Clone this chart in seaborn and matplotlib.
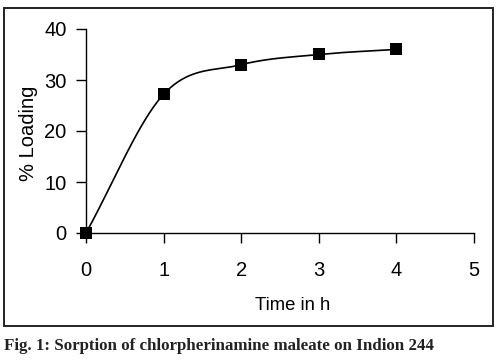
import numpy as np
import pandas as pd
import matplotlib
matplotlib.use("Agg")
import matplotlib.pyplot as plt
import seaborn as sns
from matplotlib.patches import Rectangle

# ---- data ----
time_h = [0, 1, 2, 3, 4]
loading = [0, 27.2, 33, 35, 36]
x_ticks = [0, 1, 2, 3, 4, 5]
y_ticks = [0, 10, 20, 30, 40]
x_label = "Time in h"
y_label = "% Loading"
caption = "Fig. 1: Sorption of chlorpherinamine maleate on Indion 244"


def smooth_curve(xs, ys, n=40):
    """Excel-style smoothed line (Catmull-Rom as cubic Bezier)."""
    P = np.column_stack([xs, ys]).astype(float)
    m = len(P)
    out = []
    for i in range(m - 1):
        p0 = P[i]
        p1 = P[i + 1]
        t0 = (P[i + 1] - P[i - 1]) / 2 if i > 0 else (P[1] - P[0])
        t1 = (P[i + 2] - P[i]) / 2 if i + 2 < m else (P[-1] - P[-2])
        b1 = p0 + t0 / 3
        b2 = p1 - t1 / 3
        t = np.linspace(0, 1, n)[:, None]
        seg = ((1 - t) ** 3) * p0 + 3 * ((1 - t) ** 2) * t * b1 + 3 * (1 - t) * t ** 2 * b2 + t ** 3 * p1
        out.append(seg if i == 0 else seg[1:])
    return np.vstack(out)


sns.set_theme(style="ticks")
plt.rcParams["font.family"] = ["Liberation Sans", "DejaVu Sans"]

fig = plt.figure(figsize=(5.0, 3.62), dpi=100)
ax = fig.add_axes([86 / 500, 1 - 233 / 362, (474 - 86) / 500, (233 - 29) / 362])

curve = smooth_curve(time_h, loading)
curve_df = pd.DataFrame({"x": curve[:, 0], "y": curve[:, 1]})
sns.lineplot(data=curve_df, x="x", y="y", ax=ax, color="black", linewidth=1.2,
             sort=False, estimator=None)
pts = pd.DataFrame({"x": time_h, "y": loading})
sns.scatterplot(data=pts, x="x", y="y", ax=ax, marker="s", s=75, color="black",
                edgecolor="black", linewidth=0, clip_on=False, zorder=5)

ax.set_xlim(0, 5)
ax.set_ylim(0, 40)
ax.set_xticks(x_ticks)
ax.set_yticks(y_ticks)
ax.tick_params(axis="both", direction="out", length=7, width=1.0, color="black",
               labelsize=14.5, labelcolor="black")
ax.tick_params(axis="x", pad=13)
ax.tick_params(axis="y", pad=7)
for s in ["top", "right"]:
    ax.spines[s].set_visible(False)
for s in ["left", "bottom"]:
    ax.spines[s].set_color("black")
    ax.spines[s].set_linewidth(1.0)

ax.set_xlabel("")
ax.set_ylabel("")
fig.text(293 / 500, 1 - 305 / 362, x_label, ha="center", va="center", fontsize=13.3, color="black")
fig.text(28 / 500, 1 - 133 / 362, y_label, ha="center", va="center", rotation=90,
         fontsize=14.5, color="black")

# outer frame
fig.patches.append(Rectangle((4 / 500, 1 - 326 / 362), (493 - 4) / 500, (326 - 8) / 362,
                             transform=fig.transFigure, fill=False, edgecolor="#222222",
                             linewidth=1.4))

fig.text(4 / 500, 1 - 346 / 362, caption, ha="left", va="center", fontsize=12.2,
         fontweight="bold", family=["Liberation Serif", "DejaVu Serif"], color="#222222")

fig.savefig("out.png", dpi=100)
